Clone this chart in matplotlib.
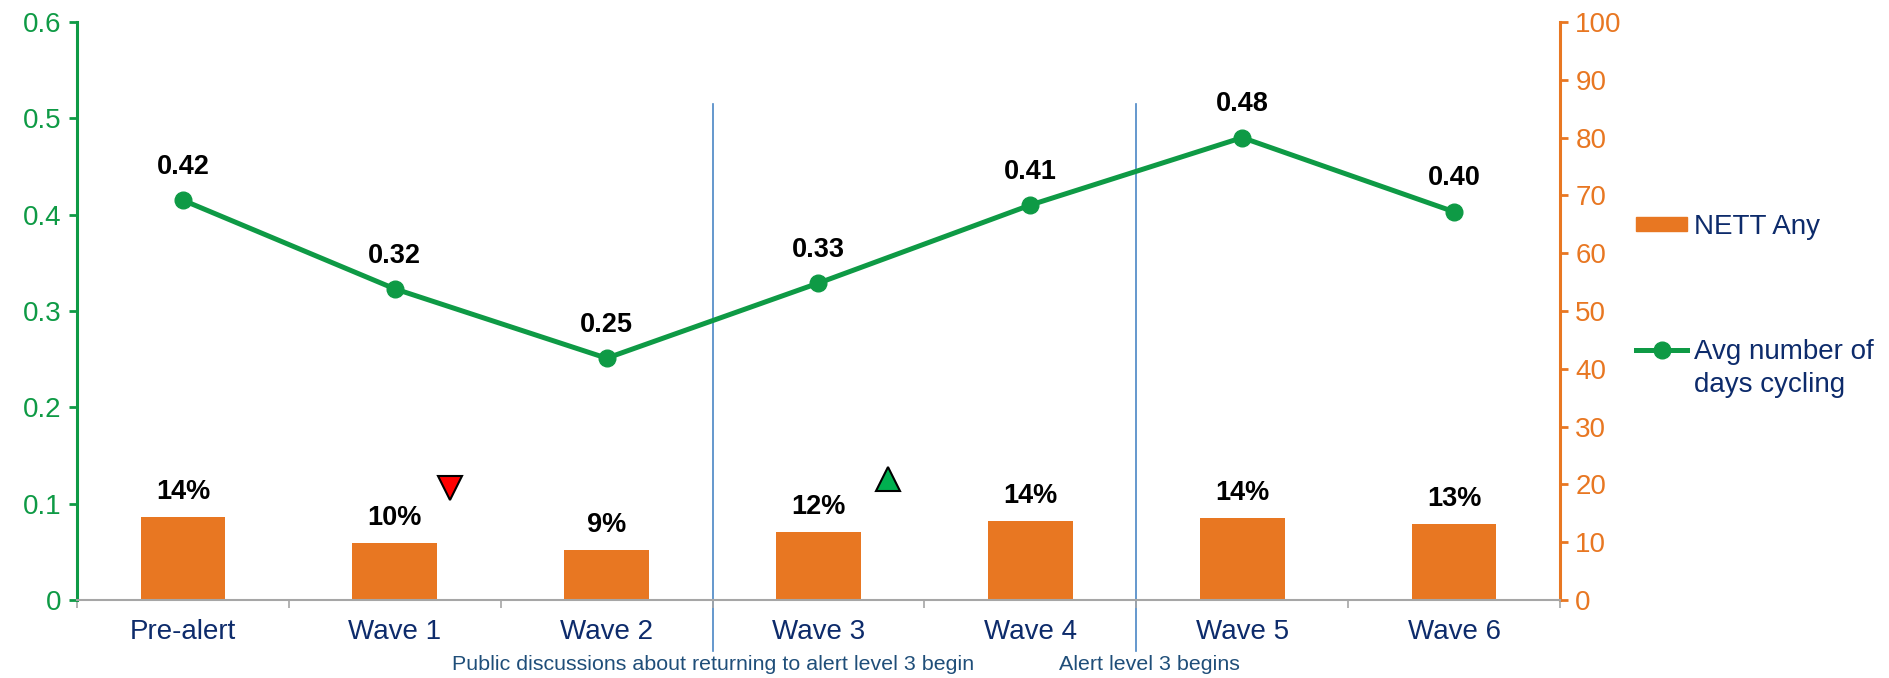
import matplotlib
matplotlib.use("Agg")
import matplotlib.pyplot as plt
import numpy as np
from matplotlib.lines import Line2D
from matplotlib.patches import Patch

plt.rcParams['font.family'] = ['Liberation Sans', 'DejaVu Sans']

categories = ["Pre-alert", "Wave 1", "Wave 2", "Wave 3", "Wave 4", "Wave 5", "Wave 6"]
nett_any = [14.4, 9.9, 8.6, 11.8, 13.6, 14.2, 13.2]
nett_labels = ["14%", "10%", "9%", "12%", "14%", "14%", "13%"]
avg_days = [0.415, 0.323, 0.251, 0.329, 0.410, 0.480, 0.403]
avg_labels = ["0.42", "0.32", "0.25", "0.33", "0.41", "0.48", "0.40"]
left_ticks = [0, 0.1, 0.2, 0.3, 0.4, 0.5, 0.6]
left_ticklabels = ["0", "0.1", "0.2", "0.3", "0.4", "0.5", "0.6"]
right_ticks = list(range(0, 101, 10))
# significance markers: (category index, direction, value on % axis)
sig_markers = [(1, "down", 19.4), (3, "up", 21.0)]
events = [(2.5, "Public discussions about returning to alert level 3 begin", 0.0),
          (4.5, "Alert level 3 begins", 0.06)]
legend_labels = ["NETT Any", "Avg number of", "days cycling"]

GREEN = "#0E9A45"
ORANGE = "#E87722"
NAVY = "#0D2B6B"
SLATE = "#1F4E79"

fig = plt.figure(figsize=(18.9, 6.78), dpi=100)
ax = fig.add_axes([77/1890, 1-600/678, (1560-77)/1890, (600-22)/678])
ax2 = ax.twinx()

x = np.arange(len(categories))

# bars on the right (%) axis
ax2.bar(x, nett_any, width=0.4, color=ORANGE, zorder=2)
ax2.set_ylim(0, 100)
ax2.set_yticks(right_ticks)
ax2.set_yticklabels([str(t) for t in right_ticks])
for xi, v, lab in zip(x, nett_any, nett_labels):
    ax2.annotate(lab, (xi, v), xytext=(0, 18), textcoords="offset points",
                 ha="center", va="center", fontsize=19.5, fontweight="bold", color="black")

for idx, d, yv in sig_markers:
    if d == "down":
        ax2.plot(idx + 0.26, yv, marker="v", markersize=17, color="#FF0000",
                 markeredgecolor="black", markeredgewidth=1.5, clip_on=False, zorder=5)
    else:
        ax2.plot(idx + 0.33, yv, marker="^", markersize=17, color="#00B050",
                 markeredgecolor="black", markeredgewidth=1.5, clip_on=False, zorder=5)

# line on left axis (drawn on top)
ax.set_zorder(ax2.get_zorder() + 1)
ax.patch.set_visible(False)
ax.plot(x, avg_days, color=GREEN, linewidth=3.6, marker="o", markersize=12,
        markerfacecolor=GREEN, markeredgecolor=GREEN, zorder=4)
for xi, v, lab in zip(x, avg_days, avg_labels):
    ax.annotate(lab, (xi, v), xytext=(0, 24), textcoords="offset points",
                ha="center", va="center", fontsize=19.5, fontweight="bold", color="black")

ax.set_ylim(0, 0.6)
ax.set_xlim(-0.5, len(categories) - 0.5)
ax.set_yticks(left_ticks)
ax.set_yticklabels(left_ticklabels)

# x ticks: labels at centres, tick marks at boundaries
ax.set_xticks(x)
ax.set_xticklabels(categories, fontsize=20, color=NAVY)
ax.tick_params(axis="x", which="major", length=0, pad=14)
ax.set_xticks(np.arange(-0.5, len(categories), 1.0), minor=True)
ax.tick_params(axis="x", which="minor", length=6, color="#A6A6A6", width=1.2)

ax.tick_params(axis="y", colors=GREEN, labelsize=20, length=6, width=2, pad=5)
ax2.tick_params(axis="y", colors=ORANGE, labelsize=20, length=6, width=2, pad=5)

for a in (ax, ax2):
    a.spines["top"].set_visible(False)
ax.spines["right"].set_visible(False)
ax2.spines["left"].set_visible(False)
ax.spines["left"].set_color(GREEN)
ax.spines["left"].set_linewidth(2.2)
ax2.spines["right"].set_color(ORANGE)
ax2.spines["right"].set_linewidth(2.2)
ax.spines["bottom"].set_color("#A6A6A6")
ax.spines["bottom"].set_linewidth(1.5)
ax2.spines["bottom"].set_visible(False)

# event lines and texts
for xv, txt, dx in events:
    ax.axvline(xv, ymin=-0.088, ymax=0.858, color="#4A86C5", linewidth=1.2, clip_on=False, zorder=1)
    ax.text(xv + dx, -0.111, txt, transform=ax.get_xaxis_transform(), ha="center", va="center",
            fontsize=15.4, color=SLATE)

# legend
handles = [Patch(facecolor=ORANGE, edgecolor=ORANGE),
           Line2D([0], [0], color=GREEN, linewidth=3.6, marker="o", markersize=12)]
leg = fig.legend(handles, legend_labels[:2],
                 loc="upper left", bbox_to_anchor=(1636/1890, 1-214/678), frameon=False,
                 fontsize=20, labelspacing=3.55, handlelength=1.85, handletextpad=0.25,
                 handleheight=0.35, borderaxespad=0.0, borderpad=0.0)
for t in leg.get_texts():
    t.set_color(NAVY)

fig.canvas.draw()
bb = leg.get_texts()[1].get_window_extent(fig.canvas.get_renderer())
fig.text(bb.x0 / fig.bbox.width, (bb.y0 - 33 + bb.height / 2) / fig.bbox.height,
         legend_labels[2], fontsize=20, color=NAVY, ha="left", va="center")

fig.savefig("out.png", dpi=100)
